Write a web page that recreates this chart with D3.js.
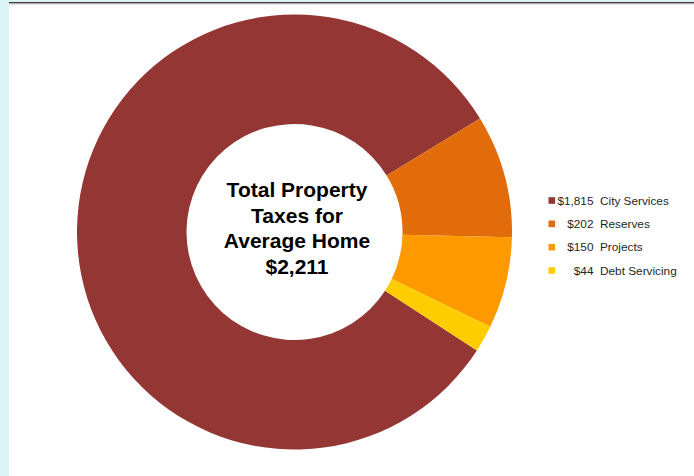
<!DOCTYPE html>
<html>
<head>
<meta charset="utf-8">
<script src="https://cdn.jsdelivr.net/npm/d3@7"></script>
<style>
  html, body { margin: 0; padding: 0; background: #ffffff; }
  svg { display: block; }
</style>
</head>
<body>
<svg id="chart" width="694" height="476"></svg>
<script>
// Property tax breakdown for an average home
const categories = ["City Services", "Reserves", "Projects", "Debt Servicing"];
const amounts = [1815, 202, 150, 44];
const valueLabels = ["$1,815", "$202", "$150", "$44"];
const colors = ["#943634", "#E36C0A", "#FF9900", "#FFCC00"];
const centerLines = ["Total Property", "Taxes for", "Average Home", "$2,211"];

const svg = d3.select("#chart");
const W = 694, H = 476;

// Page frame: pale side strip and top rule
svg.append("rect").attr("x", 0).attr("y", 0).attr("width", W).attr("height", H).attr("fill", "#ffffff");
svg.append("rect").attr("x", 0).attr("y", 0).attr("width", 9).attr("height", H).attr("fill", "#DCF3F8");
svg.append("rect").attr("x", 0).attr("y", 0).attr("width", W).attr("height", 2).attr("fill", "#DCF3F8");
svg.append("rect").attr("x", 9).attr("y", 2).attr("width", W - 9).attr("height", 1.5).attr("fill", "#3a3a3a");
svg.append("rect").attr("x", 9).attr("y", 3.5).attr("width", W - 9).attr("height", 1).attr("fill", "#c8c8c8");

// Donut
const cx = 294.5, cy = 232, outerR = 217.5, innerR = 108;
const startDeg = 123;
const pie = d3.pie()
  .sort(null)
  .value(d => d)
  .startAngle(startDeg * Math.PI / 180)
  .endAngle(startDeg * Math.PI / 180 + 2 * Math.PI);
const arc = d3.arc().innerRadius(innerR).outerRadius(outerR);

const g = svg.append("g").attr("transform", `translate(${cx},${cy})`);
g.selectAll("path")
  .data(pie(amounts))
  .join("path")
  .attr("d", arc)
  .attr("fill", (d, i) => colors[i]);

// Total in the hole
const lineH = 25.5;
g.selectAll("text.center")
  .data(centerLines)
  .join("text")
  .attr("class", "center")
  .attr("x", 2.5)
  .attr("y", (d, i) => -35 + i * lineH)
  .attr("text-anchor", "middle")
  .attr("font-family", "Liberation Sans, Arial, sans-serif")
  .attr("font-weight", "bold")
  .attr("font-size", 21)
  .attr("fill", "#000")
  .text(d => d);

// Legend
const legendY = d3.scalePoint().domain(d3.range(categories.length)).range([200.5, 270.5]);
const lg = svg.append("g").attr("font-family", "Liberation Sans, Arial, sans-serif").attr("font-size", 11.8).attr("fill", "#1f1f1f");
const rows = lg.selectAll("g").data(categories).join("g")
  .attr("transform", (d, i) => `translate(0,${legendY(i)})`);
rows.append("rect")
  .attr("x", 548.5).attr("y", -3.3).attr("width", 6.6).attr("height", 6.6)
  .attr("fill", (d, i) => colors[i]);
rows.append("text")
  .attr("x", 593.5).attr("y", 4.2)
  .attr("text-anchor", "end")
  .text((d, i) => valueLabels[i]);
rows.append("text")
  .attr("x", 600).attr("y", 4.2)
  .text(d => d);
</script>
</body>
</html>
